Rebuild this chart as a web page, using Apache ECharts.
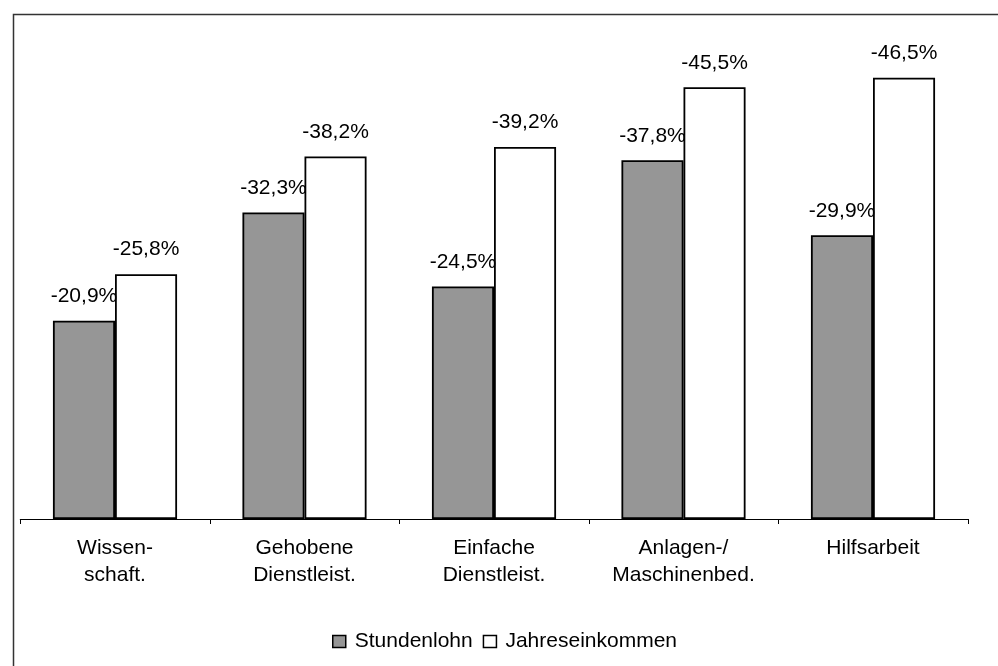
<!DOCTYPE html>
<html>
<head>
<meta charset="utf-8">
<script src="https://cdn.jsdelivr.net/npm/echarts@6/dist/echarts.min.js"></script>
<style>
  html, body { margin: 0; padding: 0; background: #ffffff; }
  #chart { width: 998px; height: 666px; }
</style>
</head>
<body>
<div id="chart"></div>
<script>
// Berufsgruppen (Kategorien der x-Achse)
const categories = [
  'Wissen-\nschaft.',
  'Gehobene\nDienstleist.',
  'Einfache\nDienstleist.',
  'Anlagen-/\nMaschinenbed.',
  'Hilfsarbeit'
];

// Veränderung in Prozent
const stundenlohn = [-20.9, -32.3, -24.5, -37.8, -29.9];
const jahreseinkommen = [-25.8, -38.2, -39.2, -45.5, -46.5];

const seriesNames = ['Stundenlohn', 'Jahreseinkommen'];

const FONT = '"Liberation Sans", Arial, sans-serif';

function pct(v) {
  return v.toFixed(1).replace('.', ',') + '%';
}

const chart = echarts.init(document.getElementById('chart'), null, { renderer: 'canvas' });

function barSeries(name, data, fill) {
  return {
    name: name,
    type: 'bar',
    data: data,
    barGap: '0%',
    barCategoryGap: '34.5%',
    itemStyle: { color: fill, borderColor: '#000000', borderWidth: 1.8 },
    label: {
      show: true,
      position: 'outside',
      distance: 14,
      color: '#000000',
      fontFamily: FONT,
      fontSize: 21,
      formatter: p => pct(p.value)
    },
    emphasis: { disabled: true },
    animation: false
  };
}

chart.setOption({
  backgroundColor: '#ffffff',
  animation: false,
  grid: { left: 20.25, right: 30.25, top: 44.5, bottom: 147 },
  xAxis: {
    type: 'category',
    data: categories,
    boundaryGap: true,
    axisLine: { show: true, lineStyle: { color: '#000000', width: 1 } },
    axisTick: { show: true, length: 5, interval: 0, lineStyle: { color: '#000000' } },
    axisLabel: {
      interval: 0,
      margin: 16,
      color: '#000000',
      fontFamily: FONT,
      fontSize: 21,
      lineHeight: 27
    },
    splitLine: { show: false }
  },
  yAxis: {
    type: 'value',
    inverse: true,
    min: -50,
    max: 0,
    show: false,
    splitLine: { show: false }
  },
  legend: {
    data: seriesNames,
    left: 332,
    top: 631,
    padding: 0,
    itemWidth: 13,
    itemHeight: 12,
    itemGap: 10,
    icon: 'rect',
    itemStyle: { borderColor: '#000000', borderWidth: 1.5 },
    textStyle: { color: '#000000', fontFamily: FONT, fontSize: 21, padding: [0, 0, 0, 4] }
  },
  graphic: [{
    type: 'rect',
    left: 11,
    top: 12,
    shape: { width: 1100, height: 800 },
    style: { fill: 'none', stroke: '#333333', lineWidth: 1.5 },
    silent: true
  }],
  series: [
    barSeries(seriesNames[0], stundenlohn, '#969696'),
    barSeries(seriesNames[1], jahreseinkommen, '#ffffff')
  ]
});
</script>
</body>
</html>
